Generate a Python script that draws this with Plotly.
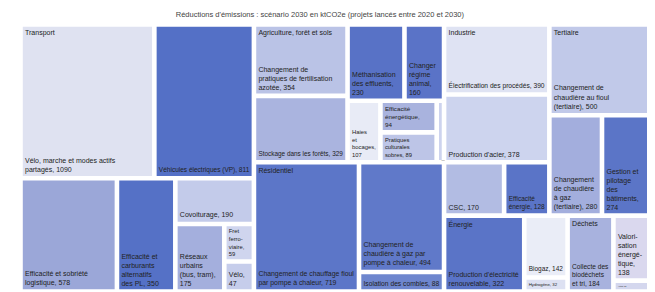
import plotly.graph_objects as go

title = "Réductions d'émissions : scénario 2030 en ktCO2e (projets lancés entre 2020 et 2030)"

root = "Total"
sectors = ["Transport", "Agriculture, forêt et sols", "Résidentiel", "Industrie",
           "Tertiaire", "Énergie", "Déchets"]

leaf_sector = (["Transport"] * 8 + ["Agriculture, forêt et sols"] * 8 + ["Résidentiel"] * 3
               + ["Industrie"] * 4 + ["Tertiaire"] * 3 + ["Énergie"] * 3 + ["Déchets"] * 3)

leaf_labels = [
    "Vélo, marche et modes actifs<br>partagés", "Véhicules électriques (VP)",
    "Efficacité et sobriété<br>logistique", "Efficacité et<br>carburants<br>alternatifs<br>des PL",
    "Covoiturage", "Réseaux<br>urbains<br>(bus, tram)", "Fret<br>ferro-<br>viaire",
    "Vélo",
    "Changement de<br>pratiques de fertilisation<br>azotée", "Stockage dans les forêts",
    "Méthanisation<br>des effluents", "Changer<br>régime<br>animal",
    "Haies<br>et<br>bocages", "Efficacité<br>énergétique",
    "Pratiques<br>culturales<br>sobres", "Autres",
    "Changement de chauffage fioul<br>par pompe à chaleur",
    "Changement de<br>chaudière à gaz par<br>pompe à chaleur", "Isolation des combles",
    "Électrification des procédés", "Production d'acier", "CSC", "Efficacité<br>énergie",
    "Changement de<br>chaudière au fioul<br>(tertiaire)",
    "Changement<br>de chaudière<br>à gaz<br>(tertiaire)", "Gestion et<br>pilotage<br>des<br>bâtiments",
    "Production d'électricité<br>renouvelable", "Biogaz", "Hydrogène",
    "Collecte des<br>biodéchets<br>et tri", "Valori-<br>sation<br>énergé-<br>tique", "Autres",
]

leaf_values = [1090, 811, 578, 350, 190, 175, 59, 47,
               354, 329, 230, 160, 107, 94, 89, 24,
               719, 494, 88,
               390, 378, 170, 128,
               500, 280, 274,
               322, 142, 32,
               184, 138, 23]

# separator between a leaf's name and its value (line break for narrow tiles)
leaf_sep = [", ", ", ", ", ", ", ", ", ", ",<br>", ",<br>", ",<br>",
            ", ", ", ", ",<br>", ",<br>", ",<br>", ",<br>", ", ", ", ",
            ", ", ", ", ", ",
            ", ", ", ", ", ", ", ",
            ", ", ", ", ",<br>",
            ", ", ", ", ", ",
            ", ", ",<br>", ", "]

leaf_colors = ["#dfe2f1", "#5470c6", "#9ba7d8", "#5571c6", "#c3cbea", "#a4afdd", "#cfd5ee", "#c6cdeb",
               "#bac3e6", "#aab4df", "#5872c6", "#5a73c7", "#e8ebf6", "#a9b3de", "#bdc5e7", "#cdd3ee",
               "#5c76c8", "#6079c9", "#6e86ce",
               "#dfe3f3", "#cdd4ee", "#b2bce3", "#5a74c7",
               "#c1c9e9", "#a3aedd", "#5b75c7",
               "#5a74c7", "#eaedf7", "#dde1f2",
               "#a8b2de", "#dad8ee", "#d4d7ee"]

sector_totals = [sum(v for s, v in zip(leaf_sector, leaf_values) if s == sec) for sec in sectors]

ids = [root] + list(sectors) + [f"{s}/{i}" for i, s in enumerate(leaf_sector)]
parents = [""] + [root] * len(sectors) + list(leaf_sector)
values = [sum(sector_totals)] + sector_totals + leaf_values
texts = [""] * (1 + len(sectors)) + [f"{l}{s}{v}" for l, s, v in zip(leaf_labels, leaf_sep, leaf_values)]
colors = ["#ffffff"] * (1 + len(sectors)) + leaf_colors

font = dict(family="Liberation Sans, Arial, sans-serif", size=7, color="#222222")

fig = go.Figure()
fig.add_trace(go.Treemap(
    ids=ids, labels=ids, parents=parents, values=values, branchvalues="total",
    text=texts, texttemplate="%{text}", textposition="bottom left",
    marker=dict(colors=colors, line=dict(color="white", width=1.6), pad=dict(t=0, l=0, r=0, b=0)),
    textfont=font, pathbar=dict(visible=False), hoverinfo="skip", sort=True,
))
sec_ids = [root] + list(sectors)
fig.add_trace(go.Treemap(
    ids=sec_ids, labels=sec_ids, parents=[""] + [root] * len(sectors),
    values=[sum(sector_totals)] + sector_totals, branchvalues="total",
    text=[""] + list(sectors), texttemplate="%{text}", textposition="top left",
    marker=dict(colors=["rgba(0,0,0,0)"] * (1 + len(sectors)), line=dict(width=0),
                pad=dict(t=0, l=0, r=0, b=0)),
    textfont=font, pathbar=dict(visible=False), hoverinfo="skip", sort=True,
))
fig.update_layout(
    width=647, height=284,
    margin=dict(l=14, r=3, t=18, b=2),
    paper_bgcolor="white",
    title=dict(text=title, x=0.482, xanchor="center", y=0.979, yanchor="middle",
               font=dict(family="Liberation Sans, Arial, sans-serif", size=7.5, color="#444444")),
    showlegend=False,
)
fig.write_html("out.html")
